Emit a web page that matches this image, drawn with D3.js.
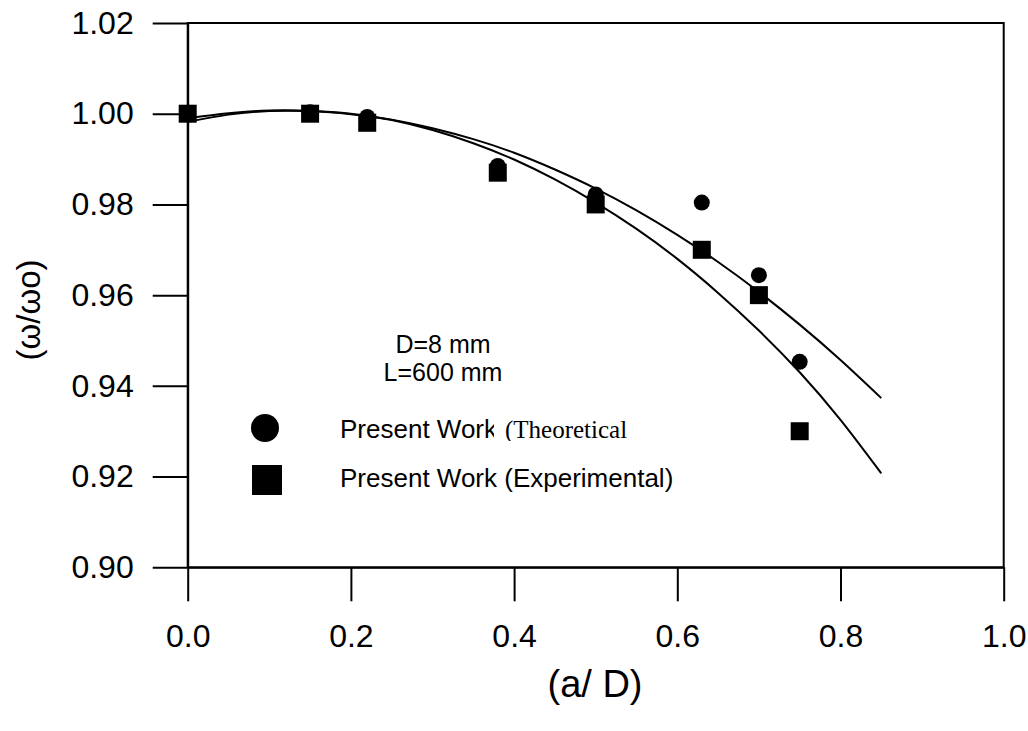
<!DOCTYPE html>
<html lang="en">
<head>
<meta charset="UTF-8">
<title>Frequency ratio vs a/D</title>
<script src="https://d3js.org/d3.v7.min.js"></script>
<style>
  body { margin: 0; background: #fff; }
  svg text { font-family: "Liberation Sans", Arial, sans-serif; fill: #000; }
</style>
</head>
<body>
<script>
    // measured points
    var xPts = [0, 0.15, 0.22, 0.38, 0.5, 0.63, 0.7, 0.75];
    var theoretical = [1.0002, 1.0003, 0.9993, 0.9885, 0.9822, 0.9804, 0.9644, 0.9453];
    var experimental = [1.0, 1.0, 0.998, 0.987, 0.980, 0.970, 0.960, 0.930];

    // fitted curves
    var curveX = [0, 0.05, 0.1, 0.15, 0.2, 0.25, 0.3, 0.35, 0.4, 0.45, 0.5, 0.55, 0.6, 0.65, 0.7, 0.75, 0.8, 0.85];
    var fitUpper = [0.9990, 1.0001, 1.0007, 1.0006, 0.9999, 0.9987, 0.9968, 0.9944, 0.9914, 0.9877, 0.9835, 0.9787, 0.9733, 0.9673, 0.9607, 0.9535, 0.9457, 0.9373];
    var fitLower = [0.9982, 0.9998, 1.0006, 1.0006, 1.0000, 0.9986, 0.9964, 0.9935, 0.9899, 0.9855, 0.9804, 0.9746, 0.9680, 0.9605, 0.9522, 0.9430, 0.9325, 0.9207];

    var xTicks = [0, 0.2, 0.4, 0.6, 0.8, 1.0];
    var yTicks = [0.90, 0.92, 0.94, 0.96, 0.98, 1.00, 1.02];

    var w = 1028, h = 731;
    var mLeft = 187.7, mRight = 1003.7, mTop = 23, mBottom = 567.3;

    var svg = d3.select("body").append("svg")
        .attr("width", w)
        .attr("height", h);

    var xScale = d3.scaleLinear().domain([0, 1]).range([mLeft, mRight]);
    var yScale = d3.scaleLinear().domain([0.90, 1.02]).range([mBottom, mTop]);

    // frame
    svg.append("rect")
        .attr("x", mLeft).attr("y", mTop)
        .attr("width", mRight - mLeft).attr("height", mBottom - mTop)
        .attr("fill", "none").attr("stroke", "#000").attr("stroke-width", 2);

    var xAxis = svg.append("g")
        .attr("transform", "translate(0," + mBottom + ")")
        .call(d3.axisBottom(xScale).tickValues(xTicks).tickFormat(d3.format(".1f"))
            .tickSize(34).tickPadding(23).tickSizeOuter(0));

    var yAxis = svg.append("g")
        .attr("transform", "translate(" + mLeft + ",0)")
        .call(d3.axisLeft(yScale).tickValues(yTicks).tickFormat(d3.format(".2f"))
            .tickSize(35).tickPadding(19).tickSizeOuter(0));

    [xAxis, yAxis].forEach(function(g) {
        g.select(".domain").attr("stroke-width", 2);
        g.selectAll(".tick line").attr("stroke-width", 2);
        g.selectAll(".tick text")
            .style("font-family", "'Liberation Sans', Arial, sans-serif")
            .style("font-size", "32px");
    });

    // curves
    var line = d3.line()
        .x(function(d) { return xScale(d[0]); })
        .y(function(d) { return yScale(d[1]); })
        .curve(d3.curveNatural);

    [fitUpper, fitLower].forEach(function(fit) {
        svg.append("path")
            .datum(curveX.map(function(x, i) { return [x, fit[i]]; }))
            .attr("d", line)
            .attr("fill", "none")
            .attr("stroke", "#000")
            .attr("stroke-width", 2);
    });

    // points: circles under squares
    svg.selectAll("circle.theo")
        .data(xPts)
        .enter()
        .append("circle")
        .attr("class", "theo")
        .attr("cx", function(d) { return xScale(d); })
        .attr("cy", function(d, i) { return yScale(theoretical[i]); })
        .attr("r", 8)
        .attr("fill", "#000");

    var sq = 18;
    svg.selectAll("rect.exp")
        .data(xPts)
        .enter()
        .append("rect")
        .attr("class", "exp")
        .attr("x", function(d) { return xScale(d) - sq / 2; })
        .attr("y", function(d, i) { return yScale(experimental[i]) - sq / 2; })
        .attr("width", sq)
        .attr("height", sq)
        .attr("fill", "#000");

    // notes
    svg.append("text").attr("x", 443).attr("y", 353).attr("text-anchor", "middle")
        .style("font-size", "25px").text("D=8 mm");
    svg.append("text").attr("x", 443).attr("y", 381).attr("text-anchor", "middle")
        .style("font-size", "25px").text("L=600 mm");

    // legend
    svg.append("circle").attr("cx", 265).attr("cy", 428).attr("r", 14).attr("fill", "#000");
    svg.append("text").attr("x", 340).attr("y", 438)
        .style("font-size", "26px").text("Present Work");

    svg.append("clipPath").attr("id", "theoClip")
        .append("rect").attr("x", 494).attr("y", 405).attr("width", 160).attr("height", 36);
    var theo = svg.append("g").attr("clip-path", "url(#theoClip)");
    theo.append("rect").attr("x", 494).attr("y", 405).attr("width", 160).attr("height", 36).attr("fill", "#fff");
    theo.append("text").attr("x", 505).attr("y", 438)
        .style("font-family", "'Liberation Serif', 'Times New Roman', serif")
        .style("font-size", "25px").text("(Theoretical");

    svg.append("rect").attr("x", 252).attr("y", 465).attr("width", 30).attr("height", 30).attr("fill", "#000");
    svg.append("text").attr("x", 340).attr("y", 487)
        .style("font-size", "26px").text("Present Work (Experimental)");

    // axis titles
    svg.append("text").attr("x", 595).attr("y", 697).attr("text-anchor", "middle")
        .style("font-size", "38px").text("(a/ D)");
    svg.append("text")
        .attr("transform", "translate(40,310) rotate(-90)")
        .attr("text-anchor", "middle")
        .style("font-size", "33px").text("(\u03c9/\u03c9o)");
</script>
</body>
</html>
